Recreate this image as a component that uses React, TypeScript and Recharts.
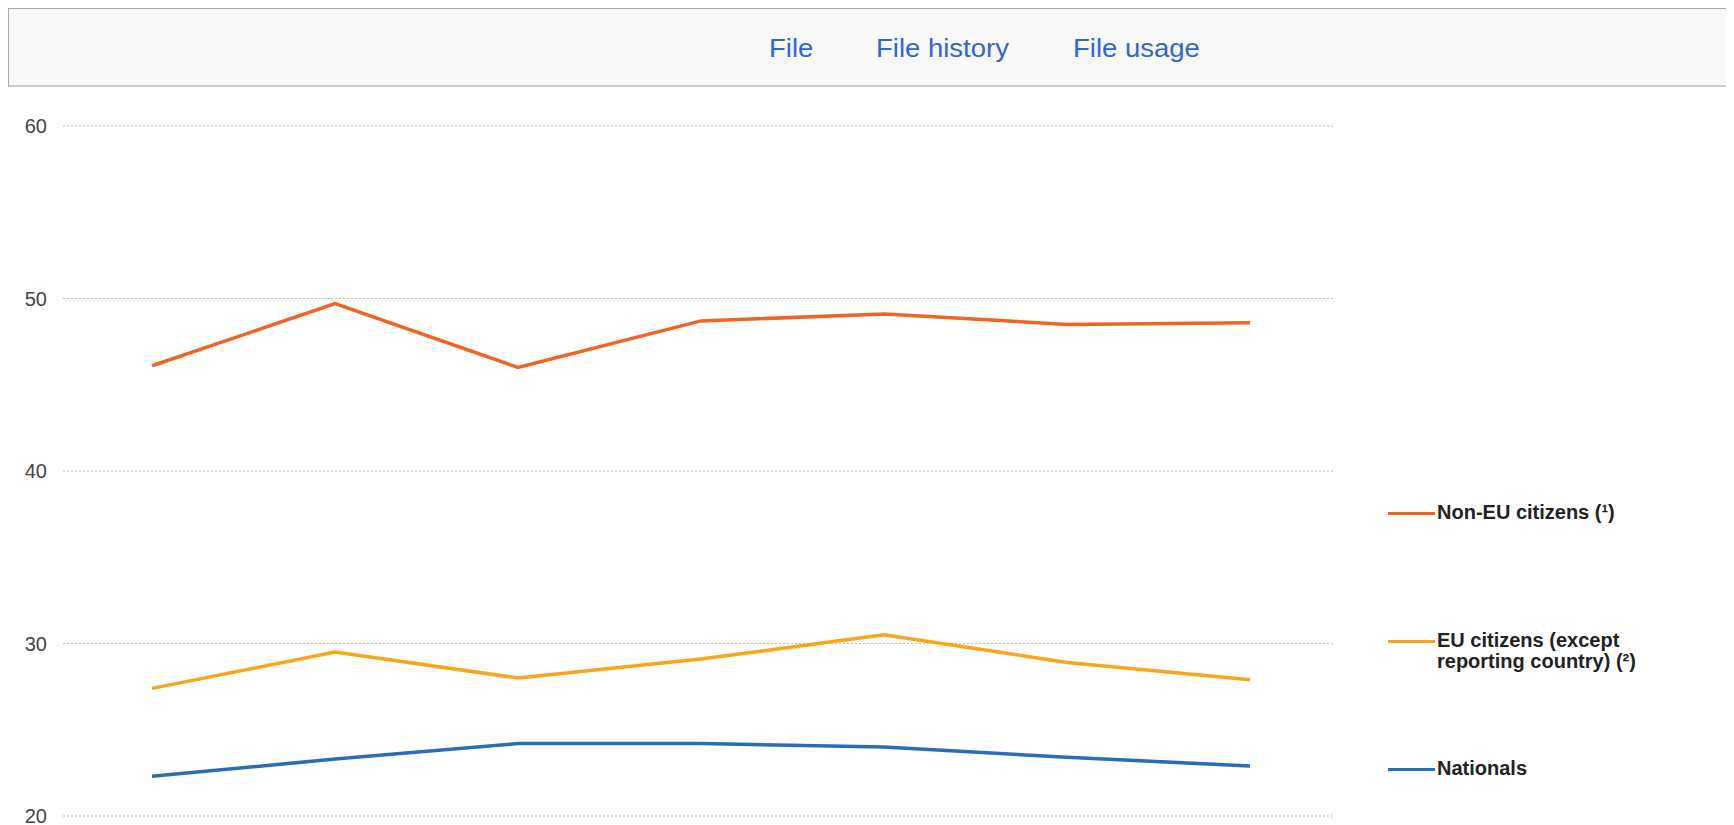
import React from "react";
import { LineChart, Line, XAxis, YAxis, CartesianGrid } from "recharts";

const categories = ["2009", "2010", "2011", "2012", "2013", "2014", "2015"];
const nonEu = [46.1, 49.7, 46.0, 48.7, 49.1, 48.5, 48.6];
const euCitizens = [27.4, 29.5, 28.0, 29.1, 30.5, 28.9, 27.9];
const nationals = [22.3, 23.3, 24.2, 24.2, 24.0, 23.4, 22.9];
const yTicks = [20, 30, 40, 50, 60];
const navLinks = ["File", "File history", "File usage"];

const seriesDefs = [
  { key: "nonEu", name: "Non-EU citizens (¹)", color: "#F06423", values: nonEu },
  { key: "eu", name: "EU citizens (except reporting country) (²)", color: "#FAA519", values: euCitizens },
  { key: "nat", name: "Nationals", color: "#286EB4", values: nationals },
];

const data = categories.map((c, i) => {
  const row: Record<string, string | number> = { year: c };
  seriesDefs.forEach((s) => {
    row[s.key] = s.values[i];
  });
  return row;
});

const navLeft = [760, 867, 1064];

const LegendBlock = () => (
  <div
    style={{
      position: "absolute",
      left: 1380,
      top: 494,
      width: 300,
      fontFamily: "'Liberation Sans', Arial, sans-serif",
    }}
  >
    {seriesDefs.map((s) => (
      <div key={s.key} style={{ display: "flex", alignItems: "flex-start", height: 128 }}>
        <div style={{ width: 47, height: 3, background: s.color, marginTop: 10, flex: "none" }} />
        <div
          style={{
            marginLeft: 2,
            width: 215,
            fontSize: 20,
            lineHeight: "21px",
            fontWeight: "bold",
            color: "#222",
          }}
        >
          {s.name}
        </div>
      </div>
    ))}
  </div>
);

export default function App() {
  return (
    <div style={{ position: "relative", width: 1726, height: 817, overflow: "hidden", background: "#fff" }}>
      <div
        style={{
          position: "absolute",
          left: 0,
          top: 0,
          width: 1760,
          height: 76,
          background: "#f8f8f8",
          border: "1px solid #a2a9b1",
          borderBottom: "2px solid #c8ccd1",
          fontFamily: "'Liberation Sans', Arial, sans-serif",
        }}
      >
        {navLinks.map((t, i) => (
          <span
            key={t}
            style={{
              position: "absolute",
              left: navLeft[i],
              top: 25,
              fontSize: 25,
              color: "#3366cc",
              whiteSpace: "nowrap",
              transform: "scaleX(1.1)",
              transformOrigin: "left center",
            }}
          >
            {t}
          </span>
        ))}
      </div>
      <div style={{ position: "absolute", left: 0, top: 0 }}>
        <LineChart
          width={1726}
          height={817}
          data={data}
          margin={{ top: 118, right: 401, bottom: 9, left: 0 }}
        >
          <CartesianGrid
            horizontal={true}
            vertical={false}
            stroke="#bdbdbd"
            strokeDasharray="2 2"
          />
          <XAxis dataKey="year" hide padding={{ left: 89, right: 83 }} />
          <YAxis
            width={55}
            domain={[20, 60]}
            ticks={yTicks}
            interval={0}
            axisLine={false}
            tickLine={false}
            tickSize={0}
            tickMargin={16}
            tick={{ fill: "#444", fontSize: 20, fontFamily: "'Liberation Sans', Arial, sans-serif" }}
          />
          {seriesDefs.map((s) => (
            <Line
              key={s.key}
              type="linear"
              dataKey={s.key}
              name={s.name}
              stroke={s.color}
              strokeWidth={3.5}
              dot={false}
              activeDot={false}
              isAnimationActive={false}
            />
          ))}
        </LineChart>
      </div>
      <LegendBlock />
    </div>
  );
}
